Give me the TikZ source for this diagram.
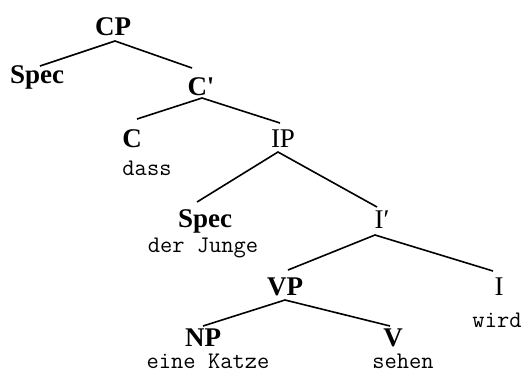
\documentclass[tikz,border=0pt]{standalone}
\usepackage{fontspec}
\setmainfont{Liberation Serif}
\newfontfamily\rawserif{Liberation Serif}
\usetikzlibrary{calc}
\tikzset{
  cat/.style={inner sep=0pt, anchor=base, font=\fontsize{27}{30}\selectfont\bfseries},
  catr/.style={inner sep=0pt, anchor=base, font=\fontsize{27}{30}\selectfont},
  word/.style={inner sep=0pt, anchor=base, font=\fontsize{23.8}{27}\selectfont\ttfamily},
  branch/.style={line width=1.6pt}
}
\begin{document}
\begin{tikzpicture}[x=1pt,y=-1pt]
\useasboundingbox (0,0) rectangle (527,373);
\node[cat] (cp) at (113,35) {CP};
\node[cat] (spec1) at (37,83) {Spec};
\node[cat] (cbar) at (201,95) {\rawserif\bfseries C'};
\node[cat] (c) at (132,147) {C};
\node[word] (dass) at (147,175) {dass};
\node[catr] (ip) at (283,147) {IP};
\node[cat] (spec2) at (205,227) {Spec};
\node[word] (junge) at (203,252) {der Junge};
\node[catr] (ibar) at (382,228) {I′};
\node[cat] (vp) at (285,295) {VP};
\node[catr] (i) at (499,295) {I};
\node[word] (wird) at (497,327) {wird};
\node[cat] (np) at (203,346) {NP};
\node[word] (katze) at (208,368) {eine Katze};
\node[cat] (v) at (393,346) {V};
\node[word] (sehen) at (403,368) {sehen};

\draw[branch] ($(spec1.base)+(3,-17)$) -- ($(cp.base)+(2,6)$) -- ($(cbar.base)+(-9,-27)$);
\draw[branch] ($(c.base)+(5,-28)$) -- ($(cbar.base)+(1,3)$) -- ($(ip.base)+(-3,-24)$);
\draw[branch] ($(spec2.base)+(-8,-25)$) -- ($(ip.base)+(-5,5)$) -- ($(ibar.base)+(-5,-21)$);
\draw[branch] ($(vp.base)+(3,-25)$) -- ($(ibar.base)+(-7,7)$) -- ($(i.base)+(-6,-24)$);
\draw[branch] ($(np.base)+(0,-20)$) -- ($(vp.base)+(0,5)$) -- ($(v.base)+(-3,-20)$);
\end{tikzpicture}
\end{document}
